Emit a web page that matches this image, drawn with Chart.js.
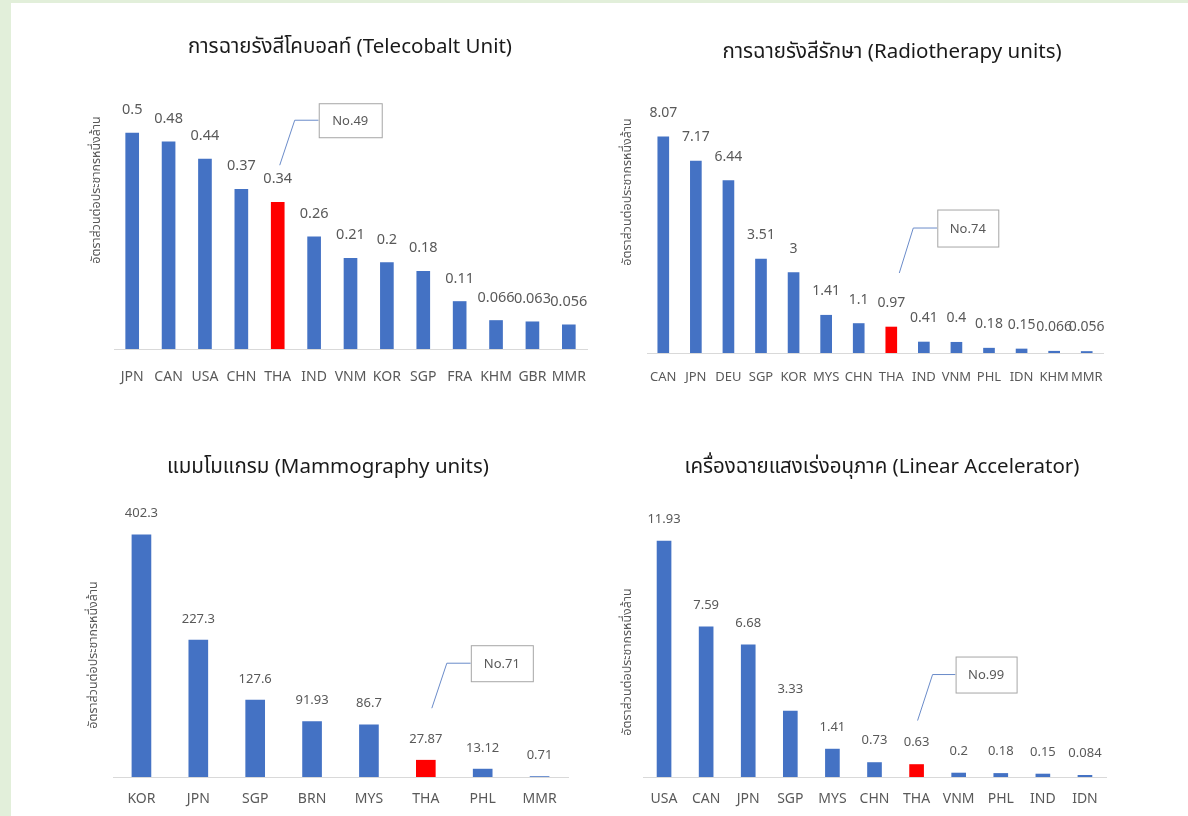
<!DOCTYPE html>
<html>
<head>
<meta charset="utf-8">
<script src="https://cdn.jsdelivr.net/npm/chart.js@4.4.1/dist/chart.umd.min.js"></script>
<style>
  html, body { margin: 0; padding: 0; }
  body { width: 1188px; height: 816px; background: #e2efda; position: relative; overflow: hidden; }
  #panel { position: absolute; left: 11px; top: 3px; right: 0; bottom: 0; background: #ffffff; }
  canvas { position: absolute; left: 0; top: 0; }
</style>
</head>
<body>
<div id="panel"></div>
<canvas id="telecobalt" width="1188" height="816"></canvas>
<canvas id="radiotherapy" width="1188" height="816"></canvas>
<canvas id="mammography" width="1188" height="816"></canvas>
<canvas id="linac" width="1188" height="816"></canvas>
<script>
// Units per million population, by country
const telecobaltCountries = ['JPN', 'CAN', 'USA', 'CHN', 'THA', 'IND', 'VNM', 'KOR', 'SGP', 'FRA', 'KHM', 'GBR', 'MMR'];
const telecobaltValues = [0.5, 0.48, 0.44, 0.37, 0.34, 0.26, 0.21, 0.2, 0.18, 0.11, 0.066, 0.063, 0.056];

const radiotherapyCountries = ['CAN', 'JPN', 'DEU', 'SGP', 'KOR', 'MYS', 'CHN', 'THA', 'IND', 'VNM', 'PHL', 'IDN', 'KHM', 'MMR'];
const radiotherapyValues = [8.07, 7.17, 6.44, 3.51, 3, 1.41, 1.1, 0.97, 0.41, 0.4, 0.18, 0.15, 0.066, 0.056];

const mammographyCountries = ['KOR', 'JPN', 'SGP', 'BRN', 'MYS', 'THA', 'PHL', 'MMR'];
const mammographyValues = [402.3, 227.3, 127.6, 91.93, 86.7, 27.87, 13.12, 0.71];

const linacCountries = ['USA', 'CAN', 'JPN', 'SGP', 'MYS', 'CHN', 'THA', 'VNM', 'PHL', 'IND', 'IDN'];
const linacValues = [11.93, 7.59, 6.68, 3.33, 1.41, 0.73, 0.63, 0.2, 0.18, 0.15, 0.084];

// Thailand's world ranking for each equipment type
const rankLabels = ['No.49', 'No.74', 'No.71', 'No.99'];

const chartTitles = [
  'การฉายรังสีโคบอลท์ (Telecobalt Unit)',
  'การฉายรังสีรักษา (Radiotherapy units)',
  'แมมโมแกรม (Mammography units)',
  'เครื่องฉายแสงเร่งอนุภาค (Linear Accelerator)'
];
const yAxisTitle = 'อัตราส่วนต่อประชากรหนึ่งล้าน';

const HIGHLIGHT = 'THA';
const FONT = "'Noto Sans', 'Noto Sans Thai', 'Leelawadee UI', Tahoma, sans-serif";
const BLUE = '#4472c4';
const RED = '#ff0000';
const GREY_TEXT = '#595959';

// Value labels above each bar
const valueLabels = {
  id: 'valueLabels',
  afterDatasetsDraw(chart, args, opts) {
    const ctx = chart.ctx;
    const meta = chart.getDatasetMeta(0);
    const data = chart.data.datasets[0].data;
    ctx.save();
    ctx.font = opts.size + 'px ' + FONT;
    ctx.fillStyle = GREY_TEXT;
    ctx.textAlign = 'center';
    ctx.textBaseline = 'middle';
    meta.data.forEach((bar, i) => {
      ctx.fillText(String(data[i]), bar.x, bar.y - opts.offset);
    });
    ctx.restore();
  }
};

// Chart title and rotated y-axis title
const panelTitles = {
  id: 'panelTitles',
  afterDraw(chart, args, opts) {
    const ctx = chart.ctx;
    ctx.save();
    ctx.font = opts.titleSize + 'px ' + FONT;
    ctx.fillStyle = '#1a1a1a';
    ctx.textAlign = 'center';
    ctx.textBaseline = 'middle';
    ctx.fillText(opts.title, opts.titleX, opts.titleY);
    ctx.translate(opts.yTitleX, opts.yTitleY);
    ctx.rotate(-Math.PI / 2);
    ctx.font = opts.yTitleSize + 'px ' + FONT;
    ctx.fillStyle = GREY_TEXT;
    ctx.fillText(yAxisTitle, 0, 0);
    ctx.restore();
  }
};

// Ranking callout pointing at the highlighted bar
const rankCallout = {
  id: 'rankCallout',
  afterDraw(chart, args, opts) {
    const labels = chart.data.labels;
    const idx = labels.indexOf(HIGHLIGHT);
    if (idx < 0) return;
    const bar = chart.getDatasetMeta(0).data[idx];
    const tipX = bar.x + opts.tip[0];
    const tipY = bar.y + opts.tip[1];
    const elbowX = tipX + opts.elbow[0];
    const elbowY = tipY + opts.elbow[1];
    const boxX = elbowX + opts.gap;
    const boxY = elbowY - opts.boxH / 2;
    const ctx = chart.ctx;
    ctx.save();
    ctx.strokeStyle = '#6a8bc9';
    ctx.lineWidth = 1;
    ctx.beginPath();
    ctx.moveTo(tipX, tipY);
    ctx.lineTo(elbowX, elbowY);
    ctx.lineTo(boxX, elbowY);
    ctx.stroke();
    ctx.fillStyle = '#ffffff';
    ctx.fillRect(boxX, boxY, opts.boxW, opts.boxH);
    ctx.strokeStyle = '#a6a6a6';
    ctx.strokeRect(boxX + 0.5, boxY + 0.5, opts.boxW, opts.boxH);
    ctx.font = '13px ' + FONT;
    ctx.fillStyle = GREY_TEXT;
    ctx.textAlign = 'center';
    ctx.textBaseline = 'middle';
    ctx.fillText(opts.text, boxX + opts.boxW / 2, boxY + opts.boxH / 2 + 1);
    ctx.restore();
  }
};

function makeChart(id, cfg) {
  const colors = cfg.labels.map(c => (c === HIGHLIGHT ? RED : BLUE));
  return new Chart(document.getElementById(id), {
    type: 'bar',
    data: {
      labels: cfg.labels,
      datasets: [{
        data: cfg.values,
        backgroundColor: colors,
        borderWidth: 0,
        barThickness: cfg.barThickness
      }]
    },
    options: {
      responsive: false,
      animation: false,
      devicePixelRatio: 1,
      layout: { padding: cfg.padding },
      plugins: {
        legend: { display: false },
        tooltip: { enabled: false },
        title: { display: false },
        valueLabels: { size: cfg.labelSize, offset: cfg.labelOffset },
        panelTitles: cfg.titles,
        rankCallout: cfg.callout
      },
      scales: {
        x: {
          offset: true,
          grid: { display: false, drawTicks: false },
          border: { display: true, color: '#d9d9d9', width: 1 },
          ticks: {
            color: GREY_TEXT,
            font: { family: FONT, size: cfg.tickSize },
            padding: cfg.tickPadding,
            maxRotation: 0,
            autoSkip: false
          },
          afterFit(scale) { scale.height = 50; }
        },
        y: { display: false, min: 0, max: cfg.yMax }
      }
    },
    plugins: [valueLabels, panelTitles, rankCallout]
  });
}

makeChart('telecobalt', {
  labels: telecobaltCountries, values: telecobaltValues, yMax: 0.6,
  barThickness: 13, labelSize: 14.5, labelOffset: 23, tickSize: 14, tickPadding: 20,
  padding: { left: 114, right: 1188 - 587, top: 90, bottom: 816 - 349 - 50 },
  titles: { title: chartTitles[0], titleX: 350, titleY: 47, titleSize: 20.5, yTitleX: 96, yTitleY: 190, yTitleSize: 12.5 },
  callout: { text: rankLabels[0], tip: [2, -37], elbow: [15, -45], gap: 24, boxW: 63, boxH: 34 }
});

makeChart('radiotherapy', {
  labels: radiotherapyCountries, values: radiotherapyValues, yMax: 9,
  barThickness: 11, labelSize: 14, labelOffset: 24, tickSize: 13, tickPadding: 16,
  padding: { left: 647, right: 1188 - 1103, top: 112, bottom: 816 - 353 - 50 },
  titles: { title: chartTitles[1], titleX: 892, titleY: 52, titleSize: 20.5, yTitleX: 627, yTitleY: 192, yTitleSize: 12.5 },
  callout: { text: rankLabels[1], tip: [8, -54], elbow: [14, -45], gap: 24, boxW: 61, boxH: 37 }
});

makeChart('mammography', {
  labels: mammographyCountries, values: mammographyValues, yMax: 450,
  barThickness: 19, labelSize: 13, labelOffset: 21, tickSize: 14, tickPadding: 14,
  padding: { left: 113, right: 1188 - 568, top: 506, bottom: 816 - 777 - 50 },
  titles: { title: chartTitles[2], titleX: 328, titleY: 467, titleSize: 20.5, yTitleX: 93, yTitleY: 655, yTitleSize: 12.5 },
  callout: { text: rankLabels[2], tip: [6, -52], elbow: [15, -45], gap: 24, boxW: 62, boxH: 36 }
});

makeChart('linac', {
  labels: linacCountries, values: linacValues, yMax: 14,
  barThickness: 14, labelSize: 13, labelOffset: 22, tickSize: 14, tickPadding: 14,
  padding: { left: 643, right: 1188 - 1106, top: 500, bottom: 816 - 777 - 50 },
  titles: { title: chartTitles[3], titleX: 882, titleY: 467, titleSize: 20.5, yTitleX: 627, yTitleY: 662, yTitleSize: 12.5 },
  callout: { text: rankLabels[3], tip: [1, -44], elbow: [15, -46], gap: 23, boxW: 61, boxH: 36 }
});
</script>
</body>
</html>
